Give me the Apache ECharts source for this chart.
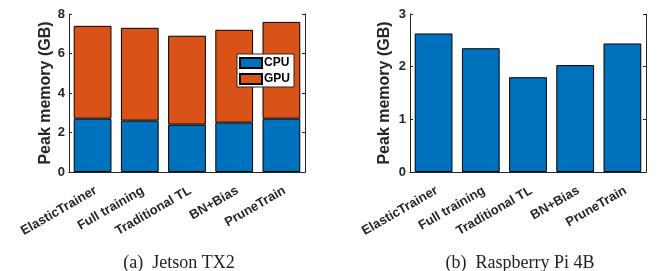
<!DOCTYPE html>
<html>
<head>
<meta charset="utf-8">
<script src="https://cdn.jsdelivr.net/npm/echarts@6/dist/echarts.min.js"></script>
<style>
* { margin: 0; padding: 0; }
body { background: #fff; }
#chart { width: 657px; height: 271px; }
</style>
</head>
<body>
<div id="chart"></div>
<script>
// categories and values
var categories = ['ElasticTrainer', 'Full training', 'Traditional TL', 'BN+Bias', 'PruneTrain']
var tx2Cpu = [2.7, 2.6, 2.4, 2.5, 2.7]
var tx2Gpu = [4.7, 4.7, 4.5, 4.7, 4.9]
var piMem = [2.63, 2.35, 1.8, 2.03, 2.44]

var BLUE = '#0072BD'
var ORANGE = '#D95319'
var FONT = 'Liberation Sans'

// one box per subplot, matlab style (ticks inside, on all four sides)
function xAxes(gi) {
  return [
    {
      gridIndex: gi, type: 'category', data: categories,
      axisLine: { lineStyle: { color: '#262626', width: 1 } },
      axisTick: { inside: true, alignWithLabel: true, length: 3, lineStyle: { color: '#262626' } },
      axisLabel: {
        rotate: 30, interval: 0, margin: 12, color: '#262626',
        align: 'right', verticalAlign: 'top',
        fontFamily: FONT, fontWeight: 'bold', fontSize: 13
      }
    },
    {
      gridIndex: gi, type: 'category', data: categories, position: 'top',
      axisLine: { lineStyle: { color: '#262626', width: 1 } },
      axisTick: { inside: true, alignWithLabel: true, length: 3, lineStyle: { color: '#262626' } },
      axisLabel: { show: false }
    }
  ]
}

function yAxes(gi, max, interval, gap) {
  return [
    {
      gridIndex: gi, type: 'value', min: 0, max: max, interval: interval,
      name: 'Peak memory (GB)', nameLocation: 'middle', nameGap: gap,
      nameTextStyle: { fontFamily: FONT, fontWeight: 'bold', fontSize: 16, color: '#262626' },
      axisLine: { show: true, lineStyle: { color: '#262626', width: 1 } },
      axisTick: { show: true, inside: true, length: 3, lineStyle: { color: '#262626' } },
      splitLine: { show: false },
      axisLabel: { margin: 4, color: '#262626', fontFamily: FONT, fontWeight: 'bold', fontSize: 13 }
    },
    {
      gridIndex: gi, type: 'value', min: 0, max: max, interval: interval, position: 'right',
      axisLine: { show: true, lineStyle: { color: '#262626', width: 1 } },
      axisTick: { show: true, inside: true, length: 3, lineStyle: { color: '#262626' } },
      splitLine: { show: false },
      axisLabel: { show: false }
    }
  ]
}

var chart = echarts.init(document.getElementById('chart'))
chart.setOption({
  animation: false,
  backgroundColor: '#fff',
  title: [
    {
      text: '(a)  Jetson TX2', left: 174, top: 249, textAlign: 'center',
      textStyle: { fontFamily: 'Liberation Serif', fontWeight: 'normal', fontSize: 18, color: '#222' }
    },
    {
      text: '(b)  Raspberry Pi 4B', left: 515, top: 249, textAlign: 'center',
      textStyle: { fontFamily: 'Liberation Serif', fontWeight: 'normal', fontSize: 18, color: '#222' }
    }
  ],
  legend: {
    data: ['CPU', 'GPU'],
    orient: 'vertical',
    left: 237, top: 54,
    padding: [3, 4, 2, 2],
    itemGap: 4,
    itemWidth: 22, itemHeight: 10,
    backgroundColor: '#fff',
    borderColor: '#262626', borderWidth: 1, borderRadius: 0,
    icon: 'rect',
    textStyle: { fontFamily: FONT, fontWeight: 'bold', fontSize: 12, lineHeight: 11, color: '#000', padding: [0, 0, 0, -3] }
  },
  grid: [
    { left: 69, width: 236, top: 14, height: 158 },
    { left: 410, width: 236, top: 14, height: 158 }
  ],
  xAxis: xAxes(0).concat(xAxes(1)),
  yAxis: yAxes(0, 8, 2, 13).concat(yAxes(1, 3, 1, 17)),
  series: [
    {
      name: 'CPU', type: 'bar', stack: 'tx2', xAxisIndex: 0, yAxisIndex: 0,
      data: tx2Cpu, barCategoryGap: '20%',
      itemStyle: { color: BLUE, borderColor: '#000', borderWidth: 1 }
    },
    {
      name: 'GPU', type: 'bar', stack: 'tx2', xAxisIndex: 0, yAxisIndex: 0,
      data: tx2Gpu, barCategoryGap: '20%',
      itemStyle: { color: ORANGE, borderColor: '#000', borderWidth: 1 }
    },
    {
      name: 'Pi', type: 'bar', xAxisIndex: 2, yAxisIndex: 2,
      data: piMem, barCategoryGap: '20%',
      itemStyle: { color: BLUE, borderColor: '#000', borderWidth: 1 }
    }
  ]
})
</script>
</body>
</html>
